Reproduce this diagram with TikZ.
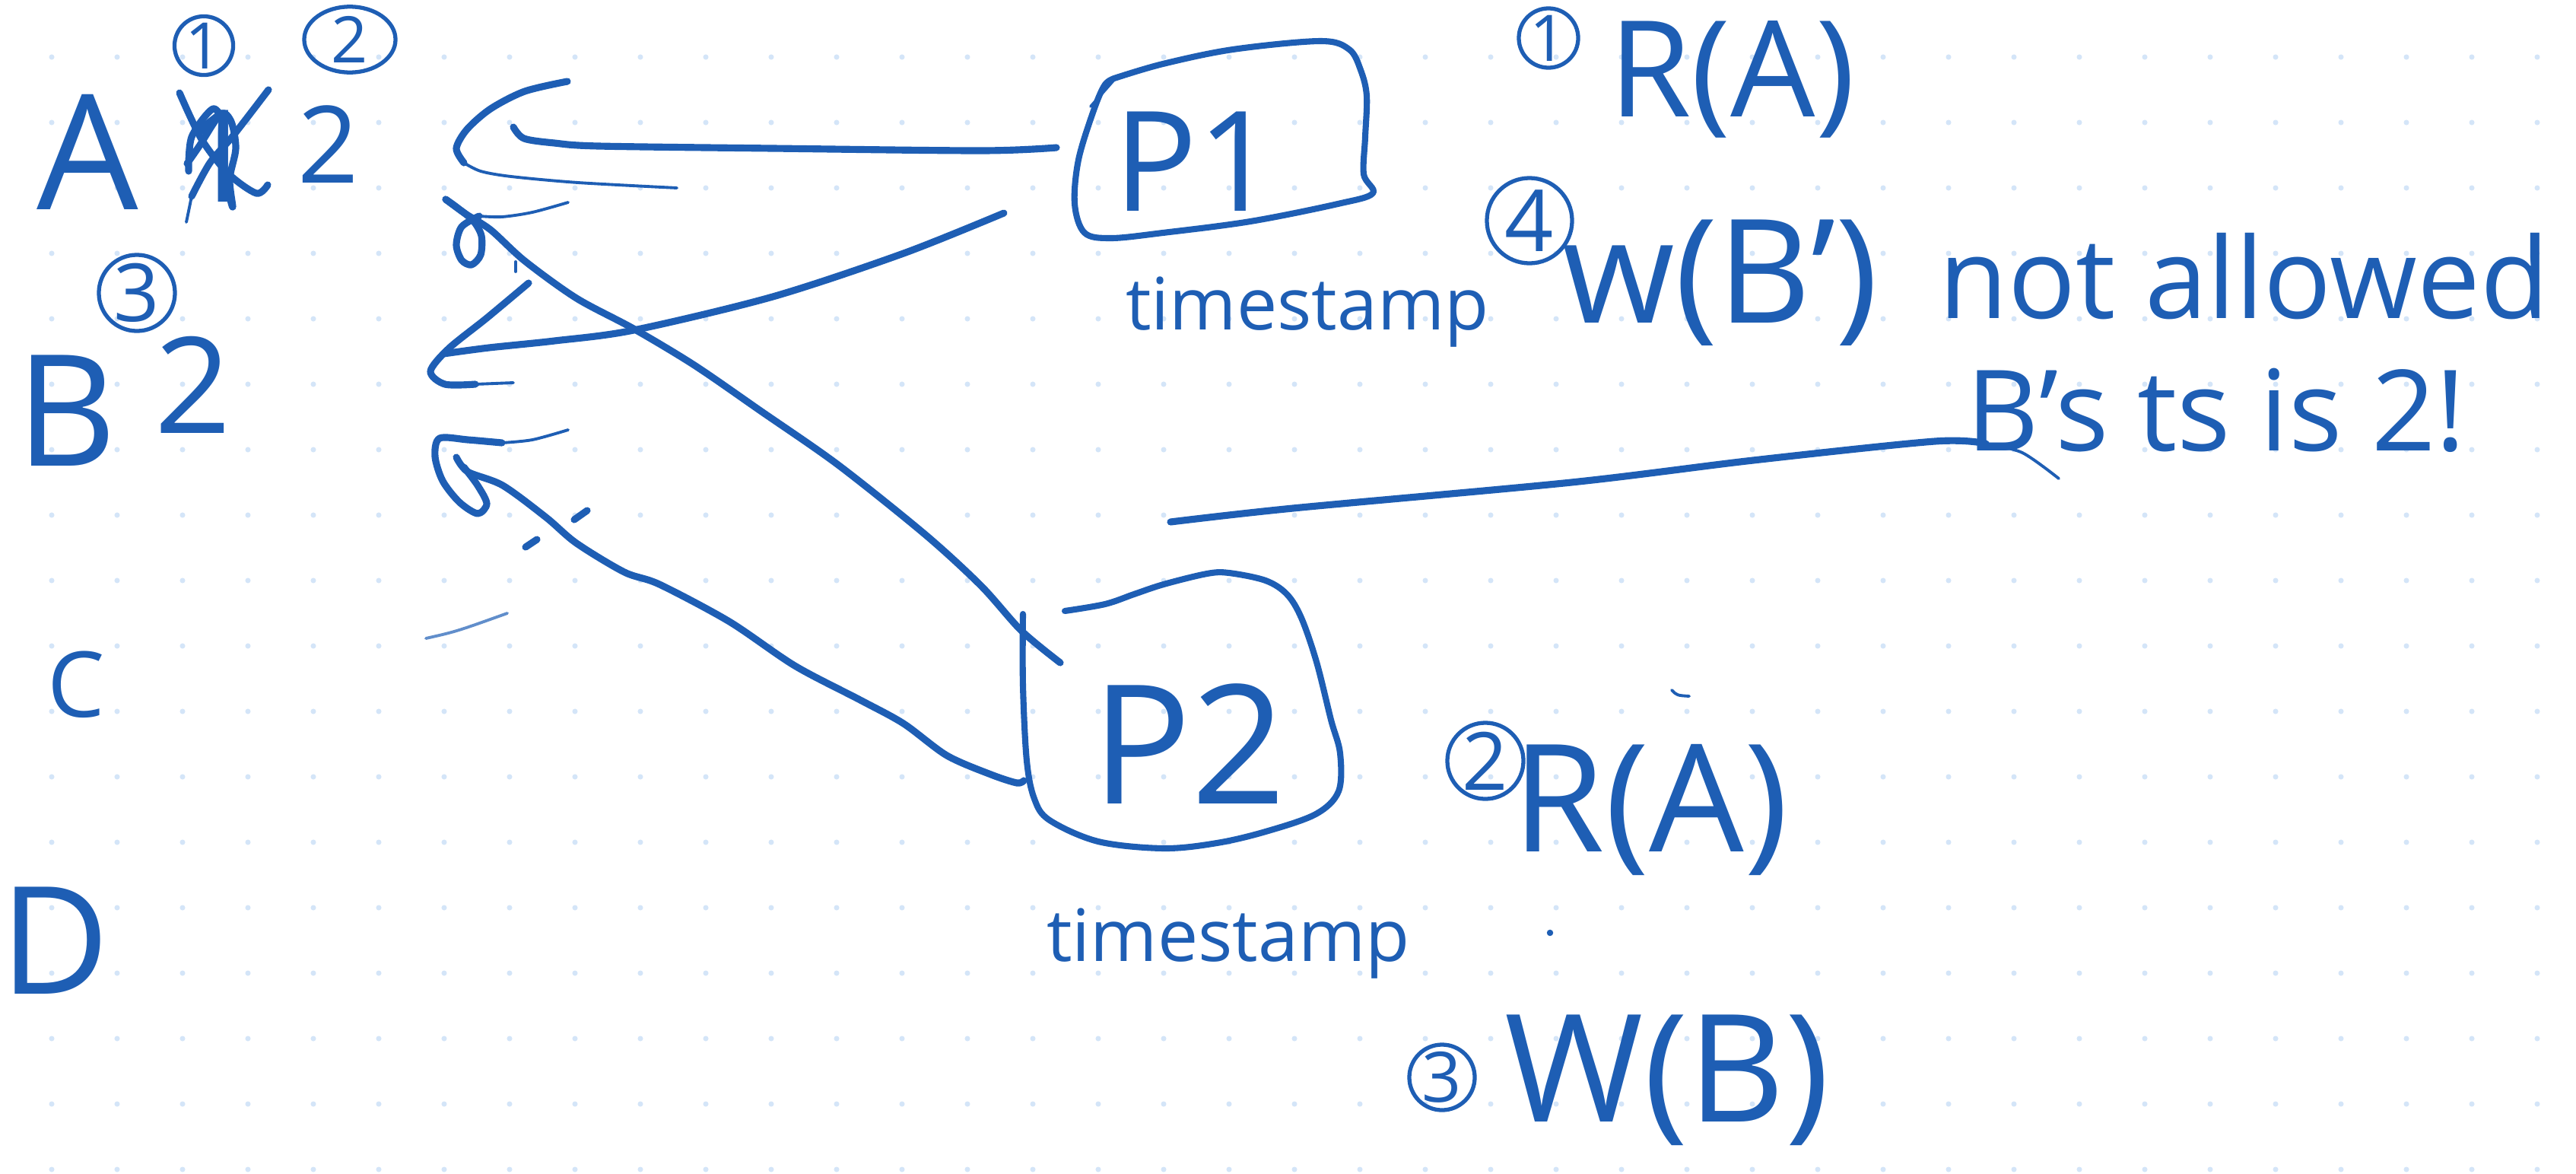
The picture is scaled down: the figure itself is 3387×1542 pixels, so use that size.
\documentclass[tikz,border=0pt]{standalone}
\usepackage{fontspec}
\setmainfont{Open Sans}
\usetikzlibrary{shapes.geometric}
\definecolor{ink}{HTML}{1E5EB4}
\definecolor{griddot}{HTML}{D4E5F8}
\newcommand\inkfs[1]{\fontsize{#1pt}{#1pt}\selectfont}
\tikzset{
  pen/.style={draw=ink, line width=2.6pt, line cap=round, line join=round},
  finepen/.style={draw=ink, line width=1.1pt, line cap=round, line join=round},
  boxpen/.style={draw=ink, line width=2.3pt, line cap=round, line join=round},
  word/.style={text=ink, inner sep=0pt, font={\inkfs{#1}}},
  circnum/.style={circle, draw=ink, line width=1.5pt, text=ink, inner sep=0pt, minimum size=#1},
}
\begin{document}
\begin{tikzpicture}[x=0.01cm, y=-0.01cm]
\useasboundingbox (0,0) rectangle (3387,1542);
\fill[white] (0,0) rectangle (3387,1542);
% dotted paper
\foreach \i in {0,...,38} \foreach \j in {0,...,17}
  \fill[griddot] (68+86*\i, 75+86*\j) circle[radius=1pt];

% ---- variables and their timestamps ----
\node[word=60] (varA) at (115,200) {A};
\node[word=48] (oldtsA) at (290,205) {1};
\node[word=40] (tsA) at (432,190) {2};
\node[circnum=0.72cm, font={\inkfs{24}}] (opA1) at (268,60) {1};
\node[ellipse, draw=ink, line width=1.5pt, text=ink, inner sep=0pt,
      minimum width=1.2cm, minimum height=0.64cm, font={\inkfs{24}}] (opA2) at (460,52) {2};
% crossed-out timestamp
\draw[pen] plot[smooth] coordinates {(236,122) (265,183) (300,228) (337,254) (352,243)};
\draw[pen] plot[smooth] coordinates {(353,118) (306,179) (276,214) (252,258)};
\draw[finepen] (252,258) -- (245,292);
\draw[pen] plot[smooth] coordinates {(248,225) (252,180) (280,143) (294,165) (292,205) (300,250) (306,272)
  (302,235) (310,195) (304,160) (290,150) (262,192) (246,215)};

\node[word=58] (varB) at (88,540) {B};
\node[word=50] (tsB) at (254,506) {2};
\node[circnum=1.0cm, font={\inkfs{30}}] (opB) at (180,385) {3};
\node[word=34] (varC) at (100,900) {C};
\node[word=56] (varD) at (72,1236) {D};

% ---- processes ----
\draw[boxpen] plot[smooth, tension=0.55] coordinates {(1468,102) (1529,84) (1621,65) (1736,54) (1774,65)
  (1789,92) (1797,126) (1795,180) (1793,229) (1805,254) (1759,268) (1644,291) (1529,306) (1461,313)
  (1426,306) (1413,268) (1418,210) (1438,145) (1453,111) (1468,102)};
\draw[finepen] (1434,140) -- (1470,99);
\node[word=52] (p1) at (1572,212) {P1};
\node[word=27] (ts1) at (1719,410) {timestamp};

\draw[boxpen] plot[smooth, tension=0.55] coordinates {(1345,807) (1345,901) (1350,1000) (1360,1050)
  (1380,1078) (1444,1106) (1530,1115) (1600,1108) (1664,1093) (1730,1070) (1760,1040) (1762,990)
  (1750,946) (1731,870) (1711,812) (1692,781) (1664,763) (1616,753) (1587,754) (1530,768) (1491,781)
  (1453,794) (1400,803)};
\node[word=62] (p2) at (1563,978) {P2};
\node[word=27] (ts2) at (1615,1240) {timestamp};

% ---- operations ----
\node[circnum=0.78cm, font={\inkfs{24}}] (op1) at (2036,50) {1};
\node[word=50] (read1) at (2277,104) {R(A)};
\node[circnum=1.12cm, font={\inkfs{32}}] (op4) at (2011,290) {4};
\node[word=54] (write4) at (2262,372) {w(B')};
\node[circnum=1.0cm, font={\inkfs{30}}] (op2) at (1953,1000) {2};
\node[word=56] (read2) at (2170,1064) {R(A)};
\node[circnum=0.86cm, font={\inkfs{26}}] (op3) at (1896,1416) {3};
\node[word=56] (write3) at (2192,1420) {W(B)};
\fill[ink] (2038,1226) circle[radius=1.2pt];
\draw[finepen] (2198,907) .. controls (2205,914) .. (2221,915);

% ---- remark ----
\node[word=42, anchor=base west] (note1) at (2549,418) {not allowed};
\node[word=42, anchor=base west] (note2) at (2585,592) {B's ts is 2!};

% ---- connectors ----
\coordinate (p1west) at (1389,194);
\coordinate (p1sw) at (1320,280);
\coordinate (p2nw) at (1394,871);
\coordinate (p2west) at (1346,1026);
\coordinate (notefrom) at (1539,686);
\coordinate (noteto) at (2611,583);

% bracket for A, tied to P1
\draw[pen] plot[smooth] coordinates {(746,107) (690,120) (645,143) (614,170) (600,195) (610,214)};
\draw[finepen] plot[smooth] coordinates {(610,214) (632,225) (672,232) (760,240) (890,247)};
\draw[pen] plot[smooth] coordinates {(p1west) (1291,198) (1016,195) (787,192) (729,188) (689,182) (675,167)};

% loop tied to P2
\draw[finepen] plot[smooth] coordinates {(747,266) (700,279) (660,285) (630,284)};
\draw[pen] plot[smooth] coordinates {(630,284) (607,298) (600,322) (607,342) (620,348) (632,335) (633,310) (622,290) (600,272) (586,262)};
\draw[pen] plot[smooth] coordinates {(586,262) (612,281) (645,302) (690,343) (758,392) (833,432) (913,480)
  (1000,540) (1102,611) (1217,703) (1290,770) (1343,829) (p2nw)};

% bracket for B, tied to P1
\draw[pen] plot[smooth] coordinates {(695,372) (640,418) (590,458) (566,488) (585,505) (625,505)};
\draw[finepen] (625,505) -- (675,503);
\draw[pen] plot[smooth] coordinates {(583,465) (643,457) (729,448) (833,434) (1016,390) (1188,333) (p1sw)};

% lower loop tied to P2
\draw[finepen] plot[smooth] coordinates {(747,565) (700,578) (660,582)};
\draw[pen] plot[smooth] coordinates {(660,582) (615,578) (578,576) (572,600) (582,632) (604,660) (628,675) (640,662) (628,638) (610,614)};
\draw[pen] plot[smooth] coordinates {(600,601) (615,620) (661,638) (718,680) (758,714) (821,752) (867,768)
  (959,817) (1045,875) (1131,920) (1188,951) (1245,993) (1303,1018) (1337,1029) (p2west)};

% small marks
\draw[pen] (755,683) -- (772,671);
\draw[pen] (691,719) -- (706,709);
\draw[finepen, draw=ink!70] (560,839) .. controls (600,830) .. (667,806);
\draw[finepen] (678,344) -- (678,357);

% line to the remark
\draw[pen] plot[smooth] coordinates {(notefrom) (1700,668) (2066,634) (2305,605) (2544,580) (noteto)};
\draw[finepen] plot[smooth] coordinates {(noteto) (2659,595) (2707,629)};
\end{tikzpicture}
\end{document}
